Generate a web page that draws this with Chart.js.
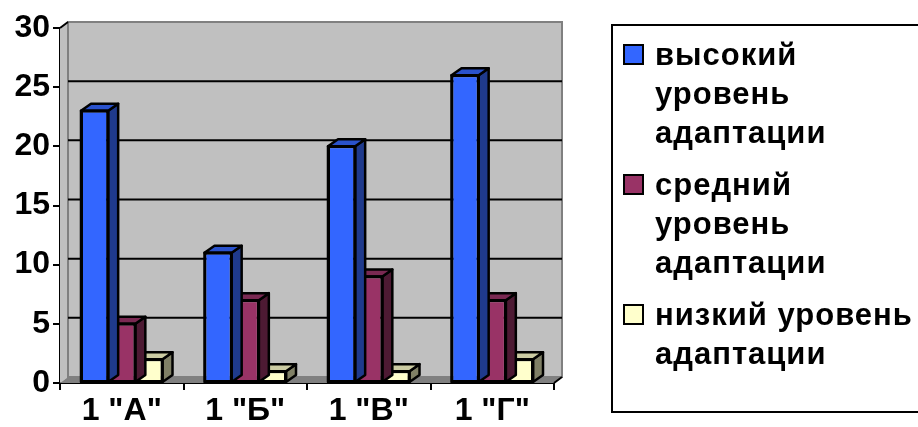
<!DOCTYPE html>
<html>
<head>
<meta charset="utf-8">
<script src="https://cdn.jsdelivr.net/npm/chart.js@4"></script>
<style>
    body { margin: 0; background: #fff; }
    #wrap { position: relative; width: 918px; height: 427px; overflow: hidden; }
    #legend {
        position: absolute; left: 611px; top: 24px; width: 330px; height: 389px;
        border: 2px solid #000; box-sizing: border-box;
        font: bold 31px 'Liberation Sans', Arial, sans-serif; color: #000;
        letter-spacing: 1px;
        padding: 9px 0 0 10px;
    }
    .item { position: relative; padding-left: 32px; line-height: 39px; margin-bottom: 13px; white-space: nowrap; }
    .box { position: absolute; left: 0; top: 9px; width: 17px; height: 17px; border: 2px solid #000; }
</style>
</head>
<body>
<div id="wrap">
    <canvas id="chart" width="918" height="427"></canvas>
    <div id="legend"></div>
</div>
<script>
const categories = ['1 "А"', '1 "Б"', '1 "В"', '1 "Г"'];
const seriesNames = ['высокий уровень адаптации', 'средний уровень адаптации', 'низкий уровень адаптации'];
const legendLines = [['высокий', 'уровень', 'адаптации'], ['средний', 'уровень', 'адаптации'], ['низкий уровень', 'адаптации']];
const highValues = [23, 11, 20, 26];
const midValues = [5, 7, 9, 7];
const lowValues = [2, 1, 1, 2];
const yTicks = [0, 5, 10, 15, 20, 25, 30];

// front / side / top colours for each series
const faceColors = ['#3366FF', '#993366', '#FFFFCC'];
const sideColors = ['#1F3A8C', '#4D1A33', '#808066'];
const topColors = ['#2A52CC', '#7A2952', '#CCCCA3'];

const WALL_DX = 8, WALL_DY = -6;
const BAR_DX = 10, BAR_DY = -7;

// Legend
const legend = document.getElementById('legend');
legendLines.forEach((lines, i) => {
    const div = document.createElement('div');
    div.className = 'item';
    div.innerHTML = '<span class="box" style="background:' + faceColors[i] + '"></span>' + lines.join('<br>');
    legend.appendChild(div);
});

const wallPlugin = {
    id: 'wall3d',
    beforeDatasetsDraw(chart) {
        const ctx = chart.ctx;
        const a = chart.chartArea;
        const y = chart.scales.y;
        ctx.save();
        // back wall
        ctx.fillStyle = '#C0C0C0';
        ctx.fillRect(a.left + WALL_DX, a.top + WALL_DY, a.right - a.left, a.bottom - a.top);
        // side wall
        ctx.beginPath();
        ctx.moveTo(a.left, a.top);
        ctx.lineTo(a.left + WALL_DX, a.top + WALL_DY);
        ctx.lineTo(a.left + WALL_DX, a.bottom + WALL_DY);
        ctx.lineTo(a.left, a.bottom);
        ctx.closePath();
        ctx.fill();
        ctx.strokeStyle = '#808080';
        ctx.lineWidth = 2;
        ctx.strokeRect(a.left + WALL_DX, a.top + WALL_DY, a.right - a.left, a.bottom - a.top);
        // floor
        ctx.fillStyle = '#808080';
        ctx.beginPath();
        ctx.moveTo(a.left, a.bottom);
        ctx.lineTo(a.right, a.bottom);
        ctx.lineTo(a.right + WALL_DX, a.bottom + WALL_DY);
        ctx.lineTo(a.left + WALL_DX, a.bottom + WALL_DY);
        ctx.closePath();
        ctx.fill();
        // gridlines on back wall
        ctx.strokeStyle = '#000';
        ctx.lineWidth = 2;
        yTicks.slice(1, -1).forEach(v => {
            const py = y.getPixelForValue(v) + WALL_DY;
            ctx.beginPath();
            ctx.moveTo(a.left + WALL_DX, py);
            ctx.lineTo(a.right + WALL_DX, py);
            ctx.stroke();
        });
        // corner diagonals
        ctx.beginPath();
        ctx.moveTo(a.left, a.top);
        ctx.lineTo(a.left + WALL_DX, a.top + WALL_DY);
        ctx.moveTo(a.right, a.bottom);
        ctx.lineTo(a.right + WALL_DX, a.bottom + WALL_DY);
        ctx.stroke();
        ctx.restore();
    },
    afterDatasetDraw(chart, args) {
        const ctx = chart.ctx;
        const i = args.index;
        ctx.save();
        ctx.strokeStyle = '#000';
        ctx.lineWidth = 2.5;
        ctx.lineJoin = 'round';
        chart.getDatasetMeta(i).data.forEach(bar => {
            const l = bar.x - bar.width / 2, r = bar.x + bar.width / 2;
            const t = bar.y, b = bar.base;
            // side
            ctx.fillStyle = sideColors[i];
            ctx.beginPath();
            ctx.moveTo(r, t);
            ctx.lineTo(r + BAR_DX, t + BAR_DY);
            ctx.lineTo(r + BAR_DX, b + BAR_DY);
            ctx.lineTo(r, b);
            ctx.closePath();
            ctx.fill();
            ctx.stroke();
            // top
            ctx.fillStyle = topColors[i];
            ctx.beginPath();
            ctx.moveTo(l, t);
            ctx.lineTo(l + BAR_DX, t + BAR_DY);
            ctx.lineTo(r + BAR_DX, t + BAR_DY);
            ctx.lineTo(r, t);
            ctx.closePath();
            ctx.fill();
            ctx.stroke();
            // front outline again so it sits on top of the side
            ctx.strokeRect(l, t, r - l, b - t);
        });
        ctx.restore();
    }
};

const tickFont = { family: "'Liberation Sans', Arial, sans-serif", size: 32, weight: 'bold' };

new Chart(document.getElementById('chart'), {
    type: 'bar',
    data: {
        labels: categories,
        datasets: [highValues, midValues, lowValues].map((vals, i) => ({
            label: seriesNames[i],
            data: vals,
            backgroundColor: faceColors[i],
            borderColor: '#000',
            borderWidth: 2,
            borderSkipped: false,
            categoryPercentage: 0.66,
            barPercentage: 1.0
        }))
    },
    options: {
        responsive: false,
        animation: false,
        layout: { padding: { top: 28, right: 364, left: 0, bottom: 0 } },
        plugins: { legend: { display: false }, tooltip: { enabled: false } },
        scales: {
            x: {
                grid: { display: true, drawOnChartArea: false, drawTicks: true, tickLength: 7, color: '#000', lineWidth: 2, offset: true },
                border: { display: true, color: '#000', width: 2 },
                ticks: { color: '#000', font: tickFont, padding: 2, maxRotation: 0 },
                afterFit: s => { s.height = 44; }
            },
            y: {
                min: 0, max: 30,
                afterBuildTicks: s => { s.ticks = yTicks.map(v => ({ value: v })); },
                grid: { display: true, drawOnChartArea: false, drawTicks: true, tickLength: 7, color: '#000', lineWidth: 2 },
                border: { display: true, color: '#000', width: 2 },
                ticks: { color: '#000', font: tickFont, padding: 3 },
                afterFit: s => { s.width = 60; }
            }
        }
    },
    plugins: [wallPlugin]
});
</script>
</body>
</html>
